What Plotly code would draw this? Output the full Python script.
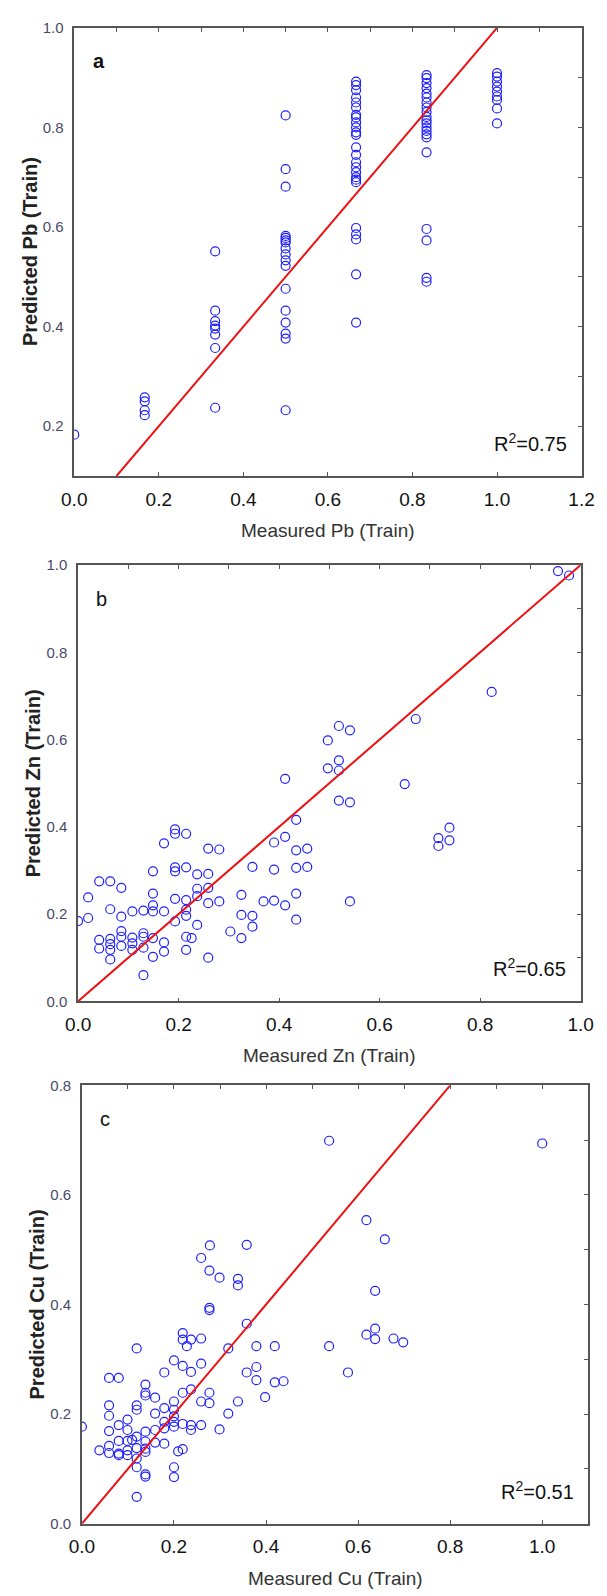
import plotly.graph_objects as go

W, H = 607, 1596

# ---------------- Panel a: Pb ----------------
pb_measured = (
    [0.0]
    + [1/6] * 4
    + [1/3] * 8
    + [0.5] * 17
    + [2/3] * 25
    + [5/6] * 21
    + [1.0] * 9
)
pb_predicted = (
    [0.183]
    + [0.258, 0.250, 0.232, 0.222]
    + [0.551, 0.432, 0.411, 0.402, 0.396, 0.384, 0.357, 0.237]
    + [0.824, 0.716, 0.681, 0.582, 0.578, 0.573, 0.569, 0.557, 0.545,
       0.533, 0.522, 0.476, 0.432, 0.408, 0.386, 0.376, 0.232]
    + [0.892, 0.885, 0.875, 0.860, 0.850, 0.840, 0.825, 0.820, 0.810,
       0.800, 0.790, 0.785, 0.760, 0.745, 0.730, 0.720, 0.710, 0.700,
       0.695, 0.690, 0.598, 0.585, 0.575, 0.505, 0.408]
    + [0.905, 0.899, 0.889, 0.879, 0.868, 0.860, 0.850, 0.840, 0.831,
       0.821, 0.814, 0.808, 0.800, 0.793, 0.786, 0.780, 0.750, 0.596,
       0.573, 0.498, 0.490]
    + [0.909, 0.902, 0.892, 0.882, 0.872, 0.862, 0.855, 0.838, 0.808]
)

# ---------------- Panel b: Zn ----------------
zn_measured = [
    0.955, 0.977, 0.823, 0.672, 0.519, 0.541, 0.497, 0.519, 0.497, 0.519,
    0.412, 0.650, 0.519, 0.541, 0.434, 0.739, 0.717, 0.717, 0.739, 0.412,
    0.390, 0.434, 0.456, 0.193, 0.193, 0.215, 0.171, 0.259, 0.281, 0.149,
    0.193, 0.193, 0.215, 0.237, 0.259, 0.347, 0.390, 0.434, 0.456, 0.042,
    0.064, 0.086, 0.020, 0.149, 0.237, 0.259, 0.237, 0.193, 0.215, 0.259,
    0.281, 0.325, 0.369, 0.390, 0.412, 0.434, 0.541, 0.064, 0.108, 0.130,
    0.149, 0.149, 0.171, 0.215, 0.215, 0.086, 0.020, 0.000, 0.193, 0.237,
    0.325, 0.347, 0.347, 0.434, 0.303, 0.325, 0.042, 0.042, 0.064, 0.064,
    0.064, 0.086, 0.086, 0.086, 0.108, 0.108, 0.108, 0.130, 0.130, 0.130,
    0.149, 0.149, 0.171, 0.171, 0.215, 0.226, 0.215, 0.064, 0.259, 0.130,
]
zn_predicted = [
    0.986, 0.976, 0.709, 0.647, 0.631, 0.621, 0.598, 0.552, 0.534, 0.529,
    0.510, 0.498, 0.460, 0.456, 0.416, 0.398, 0.374, 0.356, 0.369, 0.377,
    0.364, 0.346, 0.350, 0.394, 0.384, 0.384, 0.362, 0.350, 0.348, 0.298,
    0.307, 0.298, 0.307, 0.291, 0.292, 0.308, 0.302, 0.306, 0.308, 0.275,
    0.275, 0.260, 0.238, 0.247, 0.258, 0.260, 0.241, 0.235, 0.232, 0.225,
    0.229, 0.244, 0.229, 0.231, 0.220, 0.247, 0.229, 0.211, 0.206, 0.208,
    0.220, 0.206, 0.206, 0.210, 0.196, 0.194, 0.191, 0.184, 0.183, 0.175,
    0.198, 0.196, 0.171, 0.187, 0.160, 0.145, 0.141, 0.121, 0.143, 0.131,
    0.118, 0.161, 0.148, 0.127, 0.146, 0.133, 0.118, 0.156, 0.148, 0.123,
    0.145, 0.102, 0.135, 0.114, 0.148, 0.145, 0.118, 0.096, 0.100, 0.060,
]

# ---------------- Panel c: Cu ----------------
cu_measured = [
    0.537, 1.000, 0.618, 0.658, 0.278, 0.358, 0.259, 0.277, 0.299, 0.339,
    0.339, 0.637, 0.277, 0.277, 0.358, 0.637, 0.618, 0.637, 0.677, 0.698,
    0.537, 0.219, 0.219, 0.237, 0.259, 0.228, 0.119, 0.318, 0.379, 0.419,
    0.200, 0.259, 0.219, 0.379, 0.237, 0.179, 0.358, 0.578, 0.059, 0.080,
    0.379, 0.419, 0.438, 0.138, 0.138, 0.138, 0.237, 0.219, 0.277, 0.159,
    0.398, 0.200, 0.259, 0.277, 0.339, 0.059, 0.119, 0.119, 0.179, 0.200,
    0.059, 0.159, 0.318, 0.200, 0.099, 0.200, 0.179, 0.080, 0.219, 0.237,
    0.259, 0.200, 0.000, 0.099, 0.059, 0.138, 0.159, 0.179, 0.237, 0.299,
    0.119, 0.080, 0.099, 0.109, 0.138, 0.159, 0.179, 0.059, 0.119, 0.138,
    0.219, 0.038, 0.099, 0.209, 0.059, 0.080, 0.138, 0.099, 0.080, 0.119,
    0.119, 0.200, 0.138, 0.138, 0.200, 0.119,
]
cu_predicted = [
    0.699, 0.694, 0.554, 0.519, 0.508, 0.509, 0.485, 0.462, 0.449, 0.447,
    0.435, 0.425, 0.394, 0.390, 0.365, 0.356, 0.345, 0.337, 0.338, 0.331,
    0.324, 0.348, 0.336, 0.336, 0.338, 0.324, 0.320, 0.320, 0.324, 0.324,
    0.298, 0.292, 0.288, 0.286, 0.277, 0.276, 0.276, 0.276, 0.266, 0.266,
    0.262, 0.258, 0.260, 0.254, 0.239, 0.234, 0.245, 0.239, 0.239, 0.230,
    0.231, 0.223, 0.223, 0.220, 0.223, 0.216, 0.216, 0.208, 0.211, 0.208,
    0.197, 0.201, 0.201, 0.196, 0.190, 0.186, 0.186, 0.180, 0.182, 0.180,
    0.180, 0.177, 0.177, 0.171, 0.169, 0.168, 0.171, 0.174, 0.171, 0.172,
    0.159, 0.151, 0.151, 0.153, 0.150, 0.148, 0.146, 0.142, 0.138, 0.137,
    0.136, 0.134, 0.134, 0.132, 0.129, 0.128, 0.131, 0.125, 0.125, 0.119,
    0.103, 0.103, 0.090, 0.086, 0.085, 0.049,
]

panels = [
    dict(key="a", x=pb_measured, y=pb_predicted, metal="Pb", r2="0.75",
         xrange=[0, 1.2], yrange=[0.1, 1.0], identity=[0.1, 1.0],
         box=(64, 594, 19, 472), ytitle_x=18, letter_bold=True),
    dict(key="b", x=zn_measured, y=zn_predicted, metal="Zn", r2="0.65",
         xrange=[0, 1.0], yrange=[0.0, 1.0], identity=[0.0, 1.0],
         box=(68, 593, 562, 1003), ytitle_x=21, letter_bold=False),
    dict(key="c", x=cu_measured, y=cu_predicted, metal="Cu", r2="0.51",
         xrange=[0, 1.1], yrange=[0.0, 0.8], identity=[0.0, 0.8],
         box=(72, 601, 1088, 1531), ytitle_x=25, letter_bold=False),
]

FONT = "Liberation Sans, Arial, sans-serif"
FRAME = "#555555"
BLUE = "#2020ff"
RED = "#ee1111"


def px_x(v):
    return v / W


def px_y(v):
    return 1 - v / H


fig = go.Figure()
layout = dict(
    width=W, height=H, autosize=False,
    margin=dict(l=0, r=0, t=0, b=0),
    paper_bgcolor="white", plot_bgcolor="white",
    showlegend=False, annotations=[],
)

for i, p in enumerate(panels):
    n = 2 * i + 1          # main axes id
    m = 2 * i + 2          # overlay (top / right tick) axes id
    xa, ya = f"x{n}", f"y{n}"
    xo, yo = f"x{m}", f"y{m}"
    left, right, top, bottom = p["box"]
    xdom = [px_x(left), px_x(right)]
    ydom = [px_y(bottom), px_y(top)]

    # main bottom / left axes with the frame
    layout[f"xaxis{n}"] = dict(
        domain=xdom, anchor=ya, range=p["xrange"], dtick=0.2, tick0=0,
        tickformat=".1f", ticks="inside", ticklen=4, tickwidth=1,
        tickcolor=FRAME, showline=True, linecolor=FRAME, linewidth=1.5,
        mirror=True, showgrid=False, zeroline=False,
        tickfont=dict(family=FONT, size=19, color="#111111"),
        ticklabelstandoff=5,
    )
    layout[f"yaxis{n}"] = dict(
        domain=ydom, anchor=xa, range=p["yrange"], dtick=0.2, tick0=0,
        tickformat=".1f", ticks="", showline=True, linecolor=FRAME,
        linewidth=1.5, mirror=True, showgrid=False, zeroline=False,
        tickfont=dict(family=FONT, size=15, color="#4a4a66"),
        ticklabelstandoff=6,
    )
    # top and right minor tick marks
    layout[f"xaxis{m}"] = dict(
        overlaying=xa, side="top", anchor=ya, range=p["xrange"], dtick=0.1,
        tick0=0, ticks="inside", ticklen=4, tickcolor=FRAME,
        showticklabels=False, showline=False, showgrid=False, zeroline=False,
    )
    layout[f"yaxis{m}"] = dict(
        overlaying=ya, side="right", anchor=xa, range=p["yrange"], dtick=0.1,
        tick0=0, ticks="inside", ticklen=4, tickcolor=FRAME,
        showticklabels=False, showline=False, showgrid=False, zeroline=False,
    )

    fig.add_trace(go.Scatter(x=[], y=[], xaxis=xo, yaxis=yo,
                             hoverinfo="skip", showlegend=False))
    fig.add_trace(go.Scatter(
        x=p["x"], y=p["y"], mode="markers", xaxis=xa, yaxis=ya,
        marker=dict(symbol="circle-open", size=9, color=BLUE,
                    line=dict(width=1.2, color=BLUE)),
    ))
    fig.add_trace(go.Scatter(
        x=p["identity"], y=p["identity"], mode="lines", xaxis=xa, yaxis=ya,
        line=dict(color=RED, width=2),
    ))

    ann = layout["annotations"]
    # panel letter
    ann.append(dict(
        text=f"<b>{p['key']}</b>" if p["letter_bold"] else p["key"],
        x=px_x(left + 17), y=px_y(top + 34), xref="paper", yref="paper",
        xanchor="left", yanchor="middle", showarrow=False,
        font=dict(family=FONT, size=20, color="#111111"),
    ))
    # R² label
    ann.append(dict(
        text=f"R<sup>2</sup>=0.{p['r2'][2:]}",
        x=px_x(right - 13), y=px_y(bottom - 34), xref="paper", yref="paper",
        xanchor="right", yanchor="middle", showarrow=False,
        font=dict(family=FONT, size=20, color="#111111"),
    ))
    # axis titles
    ann.append(dict(
        text=f"Measured {p['metal']} (Train)",
        x=px_x((left + right) / 2), y=px_y(bottom + 55),
        xref="paper", yref="paper", xanchor="center", yanchor="middle",
        showarrow=False, font=dict(family=FONT, size=19, color="#333333"),
    ))
    ann.append(dict(
        text=f"<b>Predicted {p['metal']} (Train)</b>",
        x=px_x(p["ytitle_x"]), y=px_y((top + bottom) / 2),
        xref="paper", yref="paper", xanchor="center", yanchor="middle",
        textangle=-90, showarrow=False,
        font=dict(family=FONT, size=20, color="#222222"),
    ))

fig.update_layout(**layout)
fig.write_html("out.html")
